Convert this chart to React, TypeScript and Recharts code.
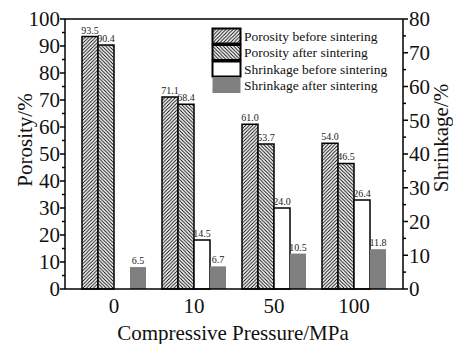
import React from 'react';
import { BarChart, Bar, XAxis, YAxis, LabelList, ReferenceLine } from 'recharts';

const categories = ['0', '10', '50', '100'];
const porosityBefore = [93.5, 71.1, 61.0, 54.0];
const porosityAfter = [90.4, 68.4, 53.7, 46.5];
const shrinkageBefore: (number | null)[] = [null, 14.5, 24.0, 26.4];
const shrinkageAfter = [6.5, 6.7, 10.5, 11.8];
const leftTicks = [0, 5, 10, 15, 20, 25, 30, 35, 40, 45, 50, 55, 60, 65, 70, 75, 80, 85, 90, 95, 100];
const rightTicks = [0, 5, 10, 15, 20, 25, 30, 35, 40, 45, 50, 55, 60, 65, 70, 75, 80];
const seriesNames = [
  'Porosity before sintering',
  'Porosity after sintering',
  'Shrinkage before sintering',
  'Shrinkage after sintering',
];

const data = categories.map((c, i) => ({
  cat: c,
  pb: porosityBefore[i],
  pa: porosityAfter[i],
  sb: shrinkageBefore[i],
  sa: shrinkageAfter[i],
}));

const FONT = 'Liberation Serif';
const GRAY = '#808080';
const txt = { fontFamily: FONT };

const Patterns = ({ prefix }: { prefix: string }) => (
  <defs>
    <pattern id={`${prefix}fwd`} patternUnits="userSpaceOnUse" width={3.5} height={3.5}>
      <rect width={3.5} height={3.5} fill="#fff" />
      <path d="M-1,1 l2,-2 M0,3.5 l3.5,-3.5 M2.5,4.5 l2,-2" stroke="#000" strokeWidth={0.9} />
    </pattern>
    <pattern id={`${prefix}bwd`} patternUnits="userSpaceOnUse" width={3.5} height={3.5}>
      <rect width={3.5} height={3.5} fill="#fff" />
      <path d="M-1,2.5 l2,2 M0,0 l3.5,3.5 M2.5,-1 l2,2" stroke="#000" strokeWidth={0.9} />
    </pattern>
  </defs>
);

const LeftTick = (props: any) => {
  const { x, y, payload } = props;
  const ax = x + 6;
  const major = payload.value % 10 === 0;
  return (
    <g>
      <line x1={ax - (major ? 5 : 3)} x2={ax} y1={y} y2={y} stroke="#000" strokeWidth={1.5} />
      {major && (
        <text x={ax - 5} y={y} dy="0.35em" textAnchor="end" style={txt} fontSize={21} fill="#111">
          {payload.value}
        </text>
      )}
    </g>
  );
};

const RightTick = (props: any) => {
  const { x, y, payload } = props;
  const ax = x - 6;
  const major = payload.value % 10 === 0;
  return (
    <g>
      <line x1={ax} x2={ax + (major ? 5 : 3)} y1={y} y2={y} stroke="#000" strokeWidth={1.5} />
      {major && (
        <text x={ax + 6} y={y} dy="0.35em" textAnchor="start" style={txt} fontSize={21} fill="#111">
          {payload.value}
        </text>
      )}
    </g>
  );
};

const XTick = (props: any) => {
  const { x, y, payload } = props;
  return (
    <text x={x} y={y} dy="0.71em" textAnchor="middle" style={txt} fontSize={21} fill="#111">
      {payload.value}
    </text>
  );
};

const BarLabel = (props: any) => {
  const { x, y, width, value } = props;
  if (value === null || value === undefined) return null;
  return (
    <text x={x + width / 2} y={y - 3} textAnchor="middle" style={txt} fontSize={10} fill="#222">
      {Number(value).toFixed(1)}
    </text>
  );
};

const LeftTitle = () => (
  <text transform="translate(25,140) rotate(-90)" textAnchor="middle" dominantBaseline="central" style={txt} fontSize={21} fill="#111">
    Porosity/%
  </text>
);

const RightTitle = () => (
  <text transform="translate(441,138) rotate(-90)" textAnchor="middle" dominantBaseline="central" style={txt} fontSize={21} fill="#111">
    Shrinkage/%
  </text>
);

const BottomTitle = () => (
  <text x={233} y={340} textAnchor="middle" style={txt} fontSize={21} fill="#111">
    Compressive Pressure/MPa
  </text>
);

const swatchFills = ['url(#lgfwd)', 'url(#lgbwd)', '#fff', GRAY];
const swatchStroke = ['#000', '#000', '#000', 'none'];

const LegendBox = () => (
  <svg width={200} height={70} style={{ position: 'absolute', left: 211, top: 27 }}>
    <Patterns prefix="lg" />
    {seriesNames.map((n, i) => (
      <g key={n}>
        <rect x={1.5} y={1.5 + i * 16.5} width={28} height={15} fill={swatchFills[i]} stroke={swatchStroke[i]} strokeWidth={2} />
        <text x={33} y={9 + i * 16.5} dy="0.35em" style={txt} fontSize={13.5} fill="#111">
          {n}
        </text>
      </g>
    ))}
  </svg>
);

export default function App() {
  return (
    <div style={{ position: 'absolute', left: 0, top: 0, width: 453, height: 344, background: '#fff', fontFamily: FONT }}>
      <BarChart
        width={453}
        height={344}
        data={data}
        margin={{ top: 19, right: 0, bottom: 0, left: 0 }}
        barGap={0}
        barSize={16}
      >
        <Patterns prefix="ch" />
        <XAxis
          dataKey="cat"
          padding={{ left: 9, right: 9 }}
          height={55}
          tickLine={false}
          tickSize={6}
          tickMargin={3}
          axisLine={{ stroke: '#000', strokeWidth: 1.5 }}
          tick={XTick}
          label={BottomTitle}
        />
        <YAxis
          yAxisId="left"
          domain={[0, 100]}
          ticks={leftTicks}
          interval={0}
          width={65}
          tickSize={5}
          tickMargin={1}
          tickLine={false}
          axisLine={{ stroke: '#000', strokeWidth: 1.5 }}
          tick={LeftTick}
          label={LeftTitle}
        />
        <YAxis
          yAxisId="right"
          orientation="right"
          domain={[0, 80]}
          ticks={rightTicks}
          interval={0}
          width={50}
          tickSize={5}
          tickMargin={1}
          tickLine={false}
          axisLine={{ stroke: '#000', strokeWidth: 1.5 }}
          tick={RightTick}
          label={RightTitle}
        />
        <ReferenceLine yAxisId="left" y={100} stroke="#000" strokeWidth={1.5} />
        <Bar yAxisId="left" dataKey="pb" name={seriesNames[0]} fill="url(#chfwd)" stroke="#000" strokeWidth={1.5} isAnimationActive={false}>
          <LabelList dataKey="pb" content={BarLabel} />
        </Bar>
        <Bar yAxisId="left" dataKey="pa" name={seriesNames[1]} fill="url(#chbwd)" stroke="#000" strokeWidth={1.5} isAnimationActive={false}>
          <LabelList dataKey="pa" content={BarLabel} />
        </Bar>
        <Bar yAxisId="right" dataKey="sb" name={seriesNames[2]} fill="#fff" stroke="#000" strokeWidth={1.5} isAnimationActive={false}>
          <LabelList dataKey="sb" content={BarLabel} />
        </Bar>
        <Bar yAxisId="right" dataKey="sa" name={seriesNames[3]} fill={GRAY} isAnimationActive={false}>
          <LabelList dataKey="sa" content={BarLabel} />
        </Bar>
      </BarChart>
      <LegendBox />
    </div>
  );
}
